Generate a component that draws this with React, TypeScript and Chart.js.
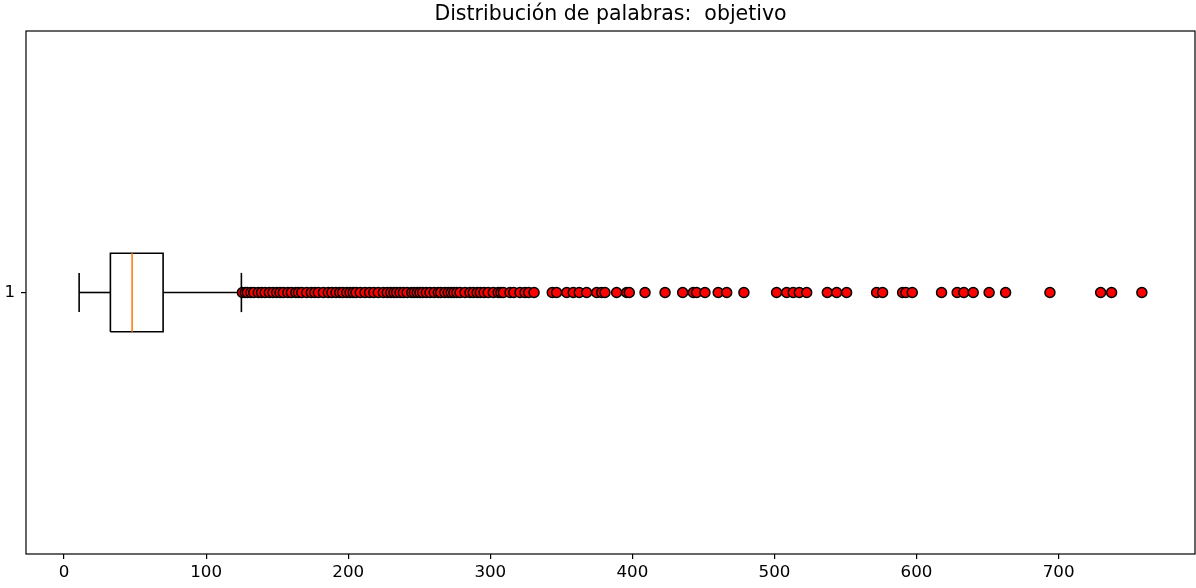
import React, { useEffect, useRef } from "react";
import { Chart, registerables } from "chart.js";

Chart.register(...registerables);

const titleText = "Distribución de palabras:  objetivo";
const categoryLabels = ["1"];
const xTickValues = [0, 100, 200, 300, 400, 500, 600, 700];

// box statistics (words)
const lowerWhisker = 10.6;
const q1 = 32.6;
const median = 47.9;
const q3 = 69.7;
const upperWhisker = 124.8;

// outliers (fliers)
const outliers = [
  125.5, 127.5, 129.0, 131.5, 133.5, 136.7, 139.0, 141.5, 144.5, 147.0, 149.7, 152.0, 154.3, 157.5,
  160.0, 163.1, 165.0, 167.3, 170.8, 174.0, 176.5, 179.0, 182.5, 186.0, 188.5, 191.4, 194.0, 196.1,
  199.0, 201.3, 203.5, 205.5, 208.5, 211.8, 215.0, 218.0, 221.2, 224.7, 227.5, 230.0, 232.2, 234.1,
  236.5, 238.8, 241.5, 244.7, 246.5, 248.6, 250.5, 252.4, 255.0, 257.6, 260.5, 263.4, 265.1, 268.0,
  270.4, 272.5, 274.4, 276.5, 278.7, 282.2, 285.7, 288.0, 290.8, 293.0, 295.6, 298.5, 302.1, 305.6,
  307.5, 309.2, 313.9, 316.5, 320.9, 324.4, 327.0, 330.8,
  343.6, 346.7, 353.8, 358.4, 362.6, 367.8, 374.9, 378.4, 380.7, 388.9, 396.0, 397.8, 408.9, 423.0,
  435.4, 442.9, 445.2, 451.1, 460.4, 466.4, 478.5, 501.5, 508.6, 513.2, 517.5, 522.7, 537.2, 543.8,
  550.8, 571.9, 576.1, 590.2, 592.5, 597.0, 617.6, 628.6, 633.3, 639.9, 651.1, 662.7, 693.9, 729.6,
  737.3, 758.6,
];

const BOX_HALF = 0.075;
const CAP_HALF = 0.0375;
const POS = 1;

const framePlugin = {
  id: "frame",
  afterDatasetsDraw(chart: any) {
    const { ctx, chartArea } = chart;
    ctx.save();
    ctx.strokeStyle = "#000";
    ctx.lineWidth = 1.2;
    ctx.strokeRect(
      chartArea.left,
      chartArea.top,
      chartArea.right - chartArea.left,
      chartArea.bottom - chartArea.top
    );
    ctx.restore();
  },
};

// title centred over the plot area (as matplotlib does)
const axesTitlePlugin = {
  id: "axesTitle",
  afterDraw(chart: any) {
    const { ctx, chartArea } = chart;
    ctx.save();
    ctx.fillStyle = "#000";
    ctx.font = "normal 20.5px 'DejaVu Sans'";
    ctx.textAlign = "center";
    ctx.textBaseline = "middle";
    ctx.fillText(titleText, (chartArea.left + chartArea.right) / 2, 15);
    ctx.restore();
  },
};

export default function App() {
  const canvasRef = useRef<HTMLCanvasElement | null>(null);

  useEffect(() => {
    document.body.style.margin = "0";
    const canvas = canvasRef.current;
    if (!canvas) return;

    const dataMin = Math.min(lowerWhisker, ...outliers);
    const dataMax = Math.max(upperWhisker, ...outliers);
    const pad = 0.05 * (dataMax - dataMin);

    const lineDs = (pts: { x: number; y: number }[], color: string, width = 1.6) => ({
      type: "line" as const,
      data: pts,
      borderColor: color,
      borderWidth: width,
      pointRadius: 0,
      fill: false,
      tension: 0,
    });

    const chart = new Chart(canvas, {
      type: "scatter",
      data: {
        datasets: [
          {
            type: "scatter",
            data: outliers.map((v) => ({ x: v, y: POS })),
            backgroundColor: "#ff0000",
            borderColor: "#000000",
            borderWidth: 1.5,
            pointRadius: 5,
          } as any,
          lineDs([{ x: median, y: POS - BOX_HALF }, { x: median, y: POS + BOX_HALF }], "#ff7f0e"),
          lineDs(
            [
              { x: q1, y: POS - BOX_HALF },
              { x: q3, y: POS - BOX_HALF },
              { x: q3, y: POS + BOX_HALF },
              { x: q1, y: POS + BOX_HALF },
              { x: q1, y: POS - BOX_HALF },
            ],
            "#000"
          ),
          lineDs([{ x: lowerWhisker, y: POS }, { x: q1, y: POS }], "#000"),
          lineDs([{ x: q3, y: POS }, { x: upperWhisker, y: POS }], "#000"),
          lineDs([{ x: lowerWhisker, y: POS - CAP_HALF }, { x: lowerWhisker, y: POS + CAP_HALF }], "#000"),
          lineDs([{ x: upperWhisker, y: POS - CAP_HALF }, { x: upperWhisker, y: POS + CAP_HALF }], "#000"),
        ],
      },
      options: {
        responsive: true,
        maintainAspectRatio: false,
        animation: false,
        layout: { autoPadding: false, padding: { left: 0, right: 1, top: 31, bottom: 0 } },
        plugins: {
          legend: { display: false },
          tooltip: { enabled: false },
          title: { display: false },
        },
        scales: {
          x: {
            type: "linear",
            min: dataMin - pad,
            max: dataMax + pad,
            afterBuildTicks: (axis: any) => {
              axis.ticks = xTickValues.map((v) => ({ value: v }));
            },
            afterFit: (scale: any) => {
              scale.height = 34;
              scale.paddingLeft = 0;
              scale.paddingRight = 0;
            },
            border: { display: false },
            grid: { drawOnChartArea: false, drawTicks: true, tickLength: 5, color: "#000", lineWidth: 1.2 },
            ticks: {
              color: "#000",
              font: { family: "DejaVu Sans", size: 16.7 },
              padding: 4,
              maxRotation: 0,
              autoSkip: false,
            },
          },
          y: {
            type: "linear",
            min: 0.5,
            max: 1.5,
            afterBuildTicks: (axis: any) => {
              axis.ticks = [{ value: POS }];
            },
            afterFit: (scale: any) => {
              scale.width = 26;
              scale.paddingTop = 0;
              scale.paddingBottom = 0;
            },
            border: { display: false },
            grid: { drawOnChartArea: false, drawTicks: true, tickLength: 5, color: "#000", lineWidth: 1.2 },
            ticks: {
              color: "#000",
              font: { family: "DejaVu Sans", size: 16.7 },
              padding: 6,
              callback: () => categoryLabels[0],
            },
          },
        },
      },
      plugins: [framePlugin, axesTitlePlugin],
    });

    return () => chart.destroy();
  }, []);

  return (
    <div style={{ width: 1196, height: 588, position: "relative", background: "#fff" }}>
      <canvas ref={canvasRef} />
    </div>
  );
}
